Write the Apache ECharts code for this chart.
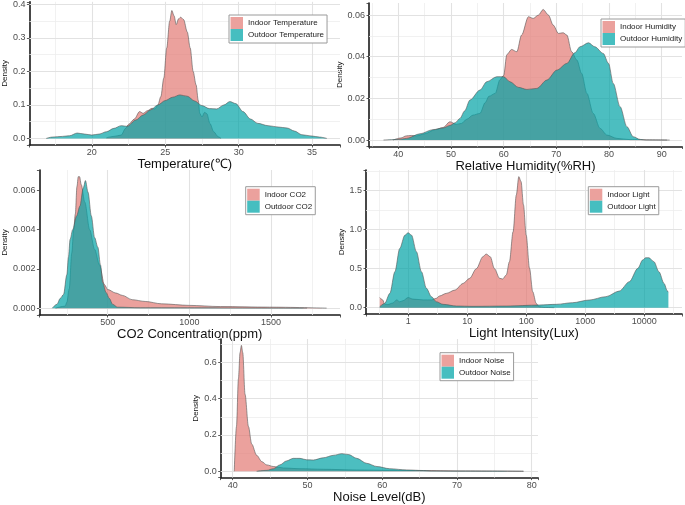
<!DOCTYPE html>
<html><head><meta charset="utf-8">
<script src="https://cdn.jsdelivr.net/npm/echarts@6/dist/echarts.min.js"></script>
<style>html,body{margin:0;padding:0;background:#fff}#c{width:685px;height:505px}</style>
</head><body><div id="c"></div>
<script>
// ---------- DATA ----------
const tempIndoor = [[21.0,0.002],[21.5,0.006],[22.0,0.01],[22.3,0.03],[22.5,0.042],[22.9,0.058],[23.25,0.08],[23.5,0.075],[23.8,0.083],[24.1,0.09],[24.3,0.088],[24.5,0.1],[24.7,0.125],[24.9,0.18],[25.1,0.27],[25.3,0.35],[25.45,0.382],[25.6,0.366],[25.75,0.34],[25.9,0.357],[26.05,0.362],[26.25,0.355],[26.5,0.318],[26.7,0.27],[26.9,0.2],[27.1,0.16],[27.25,0.113],[27.35,0.075],[27.5,0.064],[27.68,0.078],[27.83,0.074],[28.05,0.044],[28.3,0.02],[28.6,0.005],[28.8,0]];
const tempOutdoor = [[16.9,0],[17.3,0.004],[18.0,0.006],[18.5,0.008],[19.0,0.016],[19.5,0.013],[20.0,0.01],[20.5,0.013],[21.0,0.02],[21.5,0.03],[22.0,0.038],[22.4,0.036],[23.0,0.055],[23.5,0.07],[24.0,0.085],[24.5,0.1],[25.0,0.113],[25.5,0.123],[26.0,0.13],[26.5,0.126],[27.0,0.112],[27.5,0.098],[28.0,0.089],[28.5,0.088],[29.0,0.1],[29.4,0.11],[29.8,0.104],[30.3,0.08],[30.8,0.058],[31.3,0.045],[32.0,0.038],[32.7,0.034],[33.3,0.031],[33.8,0.022],[34.3,0.011],[35.0,0.007],[35.5,0.004],[36.0,0]];
const humIndoor = [[39.0,0],[40.5,0.001],[41.5,0.002],[42.5,0.0022],[43.5,0.002],[45.0,0.003],[47.0,0.005],[48.5,0.006],[49.8,0.0088],[51.0,0.0075],[52.0,0.008],[53.0,0.01],[54.2,0.012],[55.5,0.0128],[56.5,0.018],[57.2,0.021],[58.4,0.0224],[59.3,0.029],[60.0,0.031],[60.6,0.041],[61.5,0.0435],[62.5,0.0424],[63.4,0.0504],[64.7,0.0592],[65.6,0.0584],[66.6,0.06],[67.5,0.0627],[68.5,0.06],[69.4,0.0552],[70.4,0.0512],[71.3,0.0515],[72.0,0.0504],[72.9,0.0424],[73.9,0.0384],[74.8,0.032],[75.8,0.0224],[77.0,0.0128],[78.3,0.0056],[79.6,0.0024],[81.5,0.0008],[84.0,0.0002],[91.0,0]];
const humOutdoor = [[37.2,0],[40.0,0.0003],[41.6,0.0008],[44.1,0.003],[46.6,0.005],[48.5,0.0058],[49.8,0.007],[50.8,0.0083],[51.7,0.0104],[52.6,0.014],[53.6,0.0192],[55.5,0.024],[56.8,0.028],[58.7,0.0304],[60.0,0.0304],[61.2,0.028],[62.8,0.0253],[64.4,0.0243],[66.3,0.0248],[68.2,0.0288],[70.1,0.0336],[72.0,0.0368],[73.5,0.0419],[74.5,0.0448],[76.1,0.0467],[77.3,0.0448],[78.9,0.0416],[79.9,0.0368],[80.8,0.0272],[82.1,0.016],[83.4,0.0064],[84.6,0.0016],[85.9,0.0003],[87.0,0],[91.5,0]];
const co2Indoor = [[180,0],[240,0.0001],[250,0.0003],[265,0.001],[280,0.0028],[292,0.004],[302,0.0048],[312,0.0062],[320,0.0067],[328,0.0067],[338,0.0063],[360,0.0054],[390,0.004],[420,0.003],[450,0.0022],[480,0.0012],[500,0.00095],[550,0.00077],[590,0.00065],[650,0.00043],[730,0.00034],[830,0.00022],[1000,0.00014],[1190,0.00008],[1490,0.00005],[1840,0]];
const co2Outdoor = [[161,0],[190,0.0002],[210,0.0005],[230,0.0007],[250,0.0017],[260,0.0026],[270,0.0035],[286,0.004],[310,0.0047],[330,0.0052],[350,0.0061],[364,0.0065],[380,0.0059],[400,0.0047],[420,0.0036],[440,0.0031],[456,0.0022],[470,0.0013],[490,0.0008],[510,0.0005],[530,0.0002],[560,0.00005],[700,0.00002],[1720,0]];
const lightIndoor = [[0.33,0.13],[0.37,0.1],[0.40,0.045],[0.45,0.04],[0.55,0.06],[0.64,0.1],[0.72,0.075],[0.82,0.09],[1.0,0.13],[1.2,0.11],[1.8,0.1],[2.5,0.1],[3.0,0.12],[3.4,0.15],[4.45,0.184],[6.2,0.226],[8.5,0.31],[11,0.376],[14.3,0.5],[18.5,0.654],[21,0.688],[24.6,0.654],[29,0.5],[35.5,0.376],[40,0.368],[46,0.42],[52,0.59],[60,0.974],[68,1.444],[75,1.68],[82,1.615],[90,1.316],[100,0.93],[114,0.504],[129,0.205],[148,0.055],[164,0.013],[200,0.003],[300,0]];
const lightOutdoor = [[0.33,0.013],[0.40,0.055],[0.49,0.184],[0.595,0.46],[0.72,0.76],[0.88,0.93],[1.0,0.96],[1.14,0.93],[1.38,0.718],[1.68,0.46],[2.04,0.248],[2.48,0.141],[3.0,0.077],[3.9,0.043],[6.6,0.021],[12.6,0.017],[46,0.021],[167,0.034],[324,0.043],[613,0.064],[1166,0.098],[2240,0.141],[3800,0.214],[5600,0.333],[7800,0.504],[9400,0.611],[10600,0.64],[12000,0.64],[14600,0.59],[17800,0.46],[21700,0.31],[24700,0.214],[25700,0.2]];
const noiseIndoor = [[40.2,0],[40.5,0.247],[40.76,0.51],[40.98,0.654],[41.16,0.694],[41.34,0.654],[41.65,0.424],[42.1,0.247],[42.54,0.15],[43.2,0.088],[43.9,0.053],[44.55,0.035],[45.45,0.026],[46.8,0.018],[49,0.014],[52.1,0.011],[56.6,0.007],[61,0.005],[65.5,0.004],[70,0.002],[78.9,0]];
const noiseOutdoor = [[43.2,0],[44.55,0.005],[45.45,0.014],[46.3,0.035],[47.2,0.057],[48.1,0.071],[49,0.071],[49.9,0.063],[50.8,0.062],[52.1,0.074],[53.5,0.088],[54.6,0.097],[55.5,0.092],[56.6,0.071],[57.9,0.044],[59.3,0.026],[61,0.014],[63.3,0.007],[65.5,0.004],[66.4,0.002],[70,0.001],[78.9,0]];

// tick labels
const tempXTicks = [20,25,30,35], tempYTicks = [0,0.1,0.2,0.3,0.4];
const humXTicks = [40,50,60,70,80,90], humYTicks = [0,0.02,0.04,0.06];
const co2XTicks = [500,1000,1500], co2YTicks = [0,0.002,0.004,0.006];
const lightXTicks = [1,10,100,1000,10000], lightYTicks = [0,0.5,1,1.5];
const noiseXTicks = [40,50,60,70,80], noiseYTicks = [0,0.2,0.4,0.6];
// minor grid values
const tempXMinor = [17.5,22.5,27.5,32.5], tempYMinor = [0.05,0.15,0.25,0.35];
const humXMinor = [35,45,55,65,75,85], humYMinor = [0.01,0.03,0.05];
const co2XMinor = [250,750,1250,1750], co2YMinor = [0.001,0.003,0.005,0.007];
const lightXMinor = [0.316,3.16,31.6,316,3162,31623], lightYMinor = [0.25,0.75,1.25,1.75];
const noiseXMinor = [45,55,65,75], noiseYMinor = [0.1,0.3,0.5,0.7];

// ---------- STYLE / LAYOUT ----------
const FONT = "'Liberation Sans', Arial, sans-serif";
const PINK = 'rgb(226,121,115)', TEAL = 'rgb(0,162,165)';
const PINK_KEY = '#EBA19D', TEAL_KEY = '#46BEC0';

const panels = [
  {grid:{left:22,top:0,width:318,height:145}, xType:'value', xSplit:5, x:[15.75,36.9], y:[-0.0197,0.408],
   xT:tempXTicks, yT:tempYTicks, yDec:1, xM:tempXMinor, yM:tempYMinor, xName:'Temperature(℃)', xGap:9, yGap:13,
   legend:{left:229,top:15}, names:['Indoor Temperature','Outdoor Temperature'], data:[tempIndoor,tempOutdoor]},
  {grid:{left:369,top:3,width:313,height:143.5}, xType:'value', xSplit:5, x:[34.44,93.85], y:[-0.0031,0.0658],
   xT:humXTicks, yT:humYTicks, yDec:2, xM:humXMinor, yM:humYMinor, xName:'Relative Humidity(%RH)', xGap:9, yGap:18.5,
   legend:{left:601,top:19}, names:['Indoor Humidity','Outdoor Humidity'], data:[humIndoor,humOutdoor]},
  {grid:{left:31.7,top:170,width:308.3,height:145}, xType:'value', xSplit:4, x:[82.3,1921.8], y:[-0.00035,0.00704],
   xT:co2XTicks, yT:co2YTicks, yDec:3, xM:co2XMinor, yM:co2YMinor, xName:'CO2 Concentration(ppm)', xGap:6.8, yGap:22.7,
   legend:{left:245.7,top:186.7}, names:['Indoor CO2','Outdoor CO2'], data:[co2Indoor,co2Outdoor]},
  {grid:{left:366,top:170,width:317,height:144}, xType:'log', x:[0.193,43700], y:[-0.081,1.765],
   xT:lightXTicks, yT:lightYTicks, yDec:1, xM:lightXMinor, yM:lightYMinor, xName:'Light Intensity(Lux)', xGap:8.5, yGap:13.5,
   legend:{left:588.3,top:186.7}, names:['Indoor Light','Outdoor Light'], data:[lightIndoor,lightOutdoor]},
  {grid:{left:220.7,top:339,width:317.3,height:144.4}, xType:'value', xSplit:5, x:[38.39,80.84], y:[-0.035,0.729],
   xT:noiseXTicks, yT:noiseYTicks, yDec:1, xM:noiseXMinor, yM:noiseYMinor, xName:'Noise Level(dB)', xGap:6, yGap:15,
   legend:{left:440,top:352.7}, names:['Indoor Noise','Outdoor Noise'], data:[noiseIndoor,noiseOutdoor]}
];

function fmt(ticks, dec) {
  return function (v) {
    for (const t of ticks) {
      if (Math.abs(t - v) <= 1e-6 * Math.max(1, Math.abs(t))) return dec == null ? String(t) : t.toFixed(dec);
    }
    return '';
  };
}

const option = {animation:false, backgroundColor:'#fff', grid:[], xAxis:[], yAxis:[], legend:[], series:[]};
const axisLine = {show:true, onZero:false, lineStyle:{color:'#1a1a1a', width:1.6}};
const axisTick = {show:true, length:2.5, lineStyle:{color:'#333', width:0.8}};
const labelStyle = {color:'#4d4d4d', fontSize:9, fontFamily:FONT};

panels.forEach((p, i) => {
  option.grid.push(Object.assign({containLabel:false}, p.grid));
  const xa = {type:p.xType, gridIndex:i, min:p.x[0], max:p.x[1],
    axisLine, axisTick, splitLine:{show:false}, minorSplitLine:{show:false},
    axisLabel:Object.assign({margin:3.5, formatter:fmt(p.xT, null), showMinLabel:true, showMaxLabel:true}, labelStyle),
    name:p.xName, nameLocation:'middle', nameGap:p.xGap,
    nameTextStyle:{fontSize:13, color:'#111', fontFamily:FONT}};
  if (p.xType === 'log') xa.logBase = 10; else xa.splitNumber = p.xSplit;
  option.xAxis.push(xa);
  option.yAxis.push({type:'value', gridIndex:i, min:p.y[0], max:p.y[1], splitNumber:4,
    axisLine, axisTick, splitLine:{show:false},
    axisLabel:Object.assign({margin:4, formatter:fmt(p.yT, p.yDec)}, labelStyle),
    name:'Density', nameLocation:'middle', nameRotate:90, nameGap:p.yGap,
    nameTextStyle:{fontSize:8, color:'#111', fontFamily:FONT}});
  option.legend.push({orient:'vertical', left:p.legend.left, top:p.legend.top, data:p.names,
    icon:'rect', itemWidth:12.5, itemHeight:12, itemGap:0, padding:[2,3,2,1.5],
    borderColor:'#9a9a9a', borderWidth:1, backgroundColor:'#fff', borderRadius:0,
    itemStyle:{borderWidth:0}, selectedMode:false,
    textStyle:{fontSize:8, color:'#1a1a1a', fontFamily:FONT}});
  // grid lines
  const gl = [];
  p.xM.forEach(v => gl.push({xAxis:v, lineStyle:{color:'#eeeeee', width:0.8}}));
  p.yM.forEach(v => gl.push({yAxis:v, lineStyle:{color:'#eeeeee', width:0.8}}));
  p.xT.forEach(v => gl.push({xAxis:v, lineStyle:{color:'#e2e2e2', width:1.1}}));
  p.yT.forEach(v => gl.push({yAxis:v, lineStyle:{color:'#e2e2e2', width:1.1}}));
  option.series.push({type:'line', xAxisIndex:i, yAxisIndex:i, data:[], silent:true, z:1,
    markLine:{silent:true, z:1, symbol:['none','none'], label:{show:false}, animation:false,
      emphasis:{disabled:true}, lineStyle:{type:'solid'}, data:gl}});
  // density areas
  [PINK, TEAL].forEach((c, k) => {
    option.series.push({type:'line', name:p.names[k], xAxisIndex:i, yAxisIndex:i, data:p.data[k],
      smooth:0.3, smoothMonotone:'x', symbol:'none', showSymbol:false, silent:true, z:3 + k,
      itemStyle:{color: k === 0 ? PINK_KEY : TEAL_KEY},
      lineStyle:{color:'#555', width:0.6},
      areaStyle:{color:c, opacity:0.7}, emphasis:{disabled:true}});
  });
});

const chart = echarts.init(document.getElementById('c'), null, {renderer:'canvas'});
chart.setOption(option);
</script></body></html>
